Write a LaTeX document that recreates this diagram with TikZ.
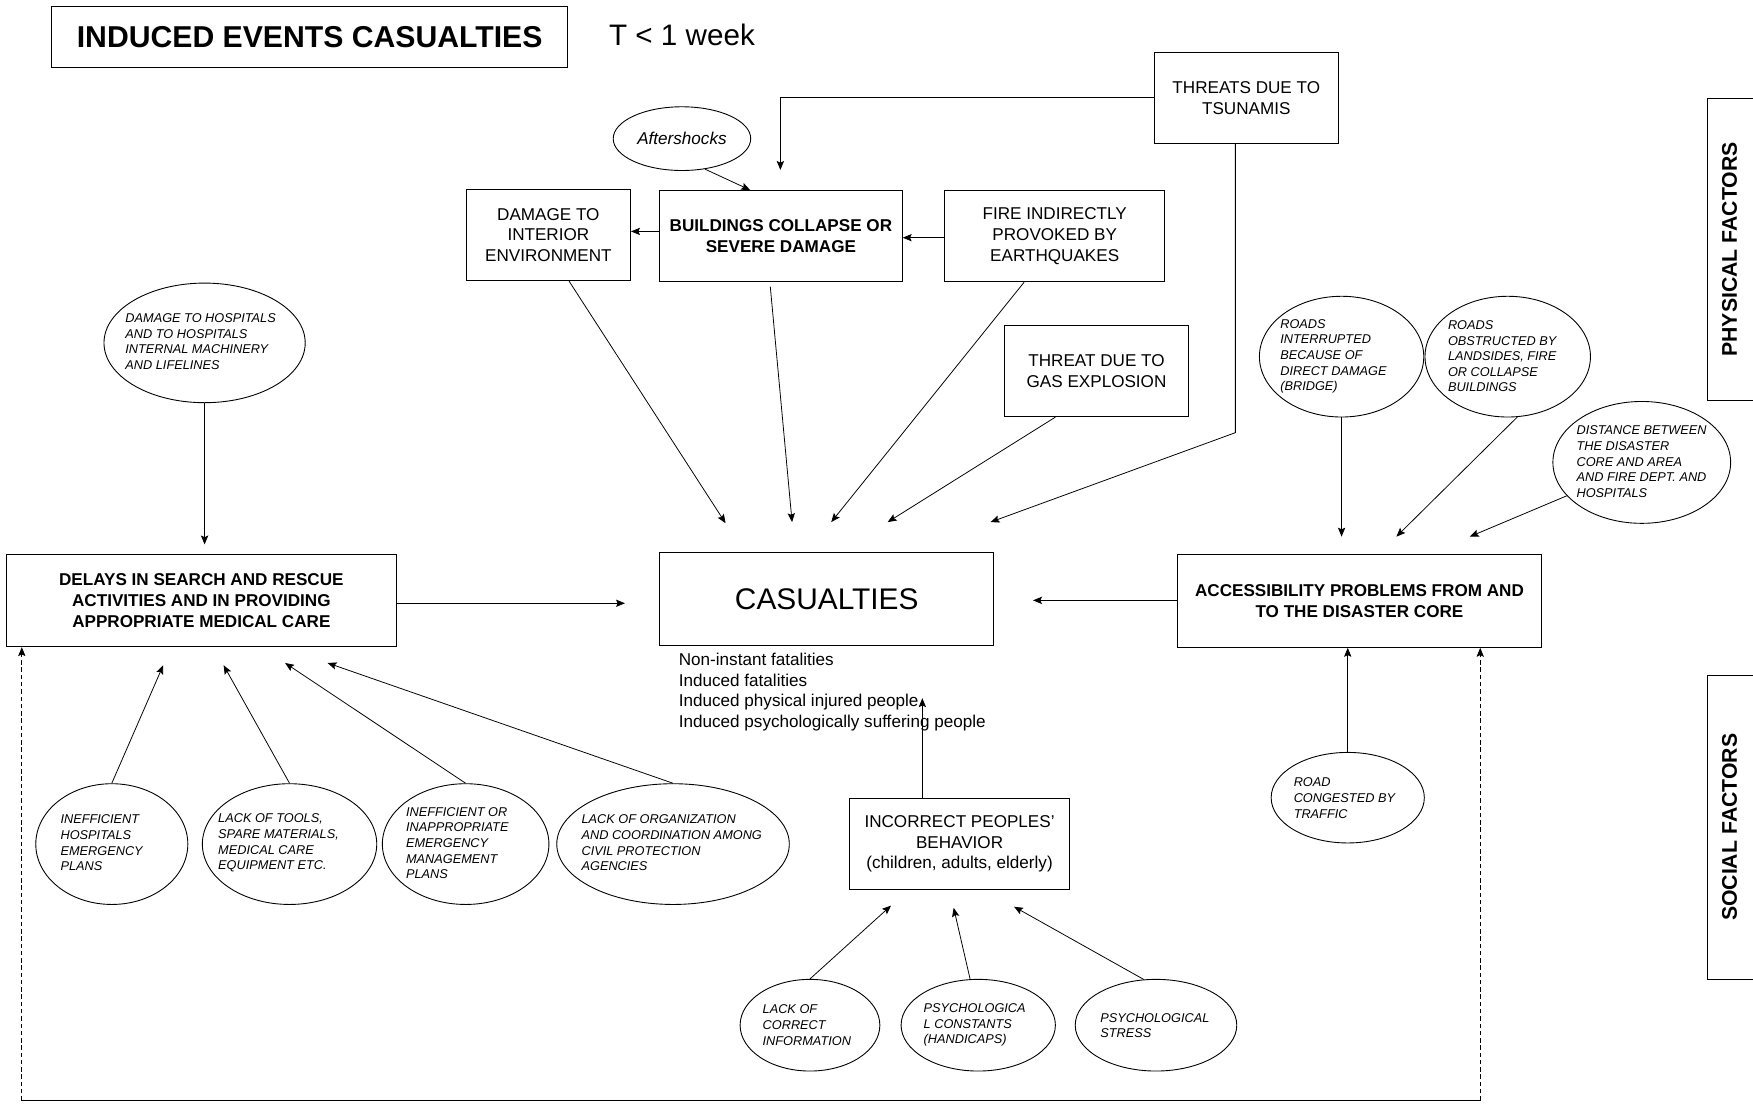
\documentclass[tikz,border=0pt]{standalone}
\usepackage{fontspec}
\setmainfont{Liberation Sans}
\usetikzlibrary{arrows.meta,shapes.geometric}

\begin{document}
\begin{tikzpicture}[x=1pt,y=-1pt,
  box/.style={draw, line width=0.9pt, inner sep=0pt, align=center, font=\fontsize{15.3}{18.6}\selectfont},
  boldbox/.style={box, font=\bfseries\fontsize{15.3}{18.6}\selectfont},
  oval/.style={ellipse, draw, line width=0.8pt, inner sep=0pt},
  ovtext/.style={anchor=west, align=left, inner sep=0pt, font=\itshape\fontsize{11.4}{14}\selectfont},
  arr/.style={line width=0.7pt, -{Stealth[length=8pt,width=6.5pt,inset=1.5pt]}},
  side/.style={rotate=90, inner sep=0pt, font=\bfseries\fontsize{19}{22}\selectfont},
  frame/.style={line width=0.9pt},
]
\useasboundingbox (0,0) rectangle (1568,988);

% ---------- heading ----------
\node[box, minimum width=462pt, minimum height=54pt, font=\bfseries\fontsize{27}{32}\selectfont] (title) at (277,33) {INDUCED EVENTS CASUALTIES};
\node[inner sep=0pt, font=\fontsize{26.5}{30}\selectfont] (period) at (610,31.5) {T < 1 week};

% ---------- physical causes ----------
\node[box, minimum width=164.5pt, minimum height=81pt] (tsu) at (1114.75,87.5) {THREATS DUE TO\\TSUNAMIS};
\node[oval, minimum width=123pt, minimum height=57pt, font=\itshape\fontsize{15.3}{18}\selectfont] (after) at (610,124) {Aftershocks};
\node[box, minimum width=147pt, minimum height=81.5pt] (dmg) at (490.5,210.25) {DAMAGE TO\\INTERIOR\\ENVIRONMENT};
\node[boldbox, minimum width=217pt, minimum height=82pt] (bld) at (698.5,211) {BUILDINGS COLLAPSE OR\\SEVERE DAMAGE};
\node[box, minimum width=196.8pt, minimum height=82pt] (fire) at (943.4,211) {FIRE INDIRECTLY\\PROVOKED BY\\EARTHQUAKES};
\node[box, minimum width=164.4pt, minimum height=81.7pt] (gas) at (980.8,331.8) {THREAT DUE TO\\GAS EXPLOSION};

% ---------- central outcome ----------
\node[box, minimum width=299pt, minimum height=82.5pt, font=\fontsize{26.7}{30}\selectfont] (cas) at (739.5,535.75) {CASUALTIES};
\node[anchor=west, align=left, inner sep=0pt, font=\fontsize{15.3}{18.3}\selectfont] (casList) at (607,619) {Non-instant fatalities\\Induced fatalities\\Induced physical injured people\\Induced psychologically suffering people};

% ---------- rescue delays ----------
\node[oval, minimum width=180pt, minimum height=107pt] (hosp) at (183,306.7) {};
\node[ovtext] (hospT) at (112,305.5) {DAMAGE TO HOSPITALS\\AND TO HOSPITALS\\INTERNAL MACHINERY\\AND LIFELINES};
\node[boldbox, minimum width=349pt, minimum height=82pt] (del) at (180.1,537.4) {DELAYS IN SEARCH AND RESCUE\\ACTIVITIES AND IN PROVIDING\\APPROPRIATE MEDICAL CARE};

\node[oval, minimum width=136pt, minimum height=108pt] (e1) at (100,755) {};
\node[ovtext] (e1T) at (54,754) {INEFFICIENT\\HOSPITALS\\EMERGENCY\\PLANS};
\node[oval, minimum width=156pt, minimum height=108pt] (e2) at (259,755) {};
\node[ovtext] (e2T) at (195,754) {LACK OF TOOLS,\\SPARE MATERIALS,\\MEDICAL CARE\\EQUIPMENT ETC.};
\node[oval, minimum width=149pt, minimum height=108pt] (e3) at (416.5,755) {};
\node[ovtext] (e3T) at (363,754) {INEFFICIENT OR\\INAPPROPRIATE\\EMERGENCY\\MANAGEMENT\\PLANS};
\node[oval, minimum width=208pt, minimum height=108pt] (e4) at (602,755) {};
\node[ovtext] (e4T) at (520,754) {LACK OF ORGANIZATION\\AND COORDINATION AMONG\\CIVIL PROTECTION\\AGENCIES};

% ---------- accessibility ----------
\node[boldbox, minimum width=326pt, minimum height=83pt] (acc) at (1216,537.5) {ACCESSIBILITY PROBLEMS FROM AND\\TO THE DISASTER CORE};
\node[oval, minimum width=147pt, minimum height=108pt] (ri) at (1200,319) {};
\node[ovtext] (riT) at (1145,318.7) {ROADS\\INTERRUPTED\\BECAUSE OF\\DIRECT DAMAGE\\(BRIDGE)};
\node[oval, minimum width=148pt, minimum height=108pt] (ro) at (1348.6,319) {};
\node[ovtext] (roT) at (1295,318.7) {ROADS\\OBSTRUCTED BY\\LANDSIDES, FIRE\\OR COLLAPSE\\BUILDINGS};
\node[oval, minimum width=159pt, minimum height=109pt] (di) at (1468.5,413.6) {};
\node[ovtext] (diT) at (1410,413) {DISTANCE BETWEEN\\THE DISASTER\\CORE AND AREA\\AND FIRE DEPT. AND\\HOSPITALS};
\node[oval, minimum width=137pt, minimum height=81pt] (rc) at (1205.5,713.5) {};
\node[ovtext] (rcT) at (1157,714) {ROAD\\CONGESTED BY\\TRAFFIC};

% ---------- people's behaviour ----------
\node[box, minimum width=197.4pt, minimum height=81.5pt] (inc) at (858.3,754.75) {INCORRECT PEOPLES'\\BEHAVIOR\\(children, adults, elderly)};
\node[oval, minimum width=125pt, minimum height=82pt] (li) at (724.5,917) {};
\node[ovtext] (liT) at (682,917) {LACK OF\\CORRECT\\INFORMATION};
\node[oval, minimum width=138pt, minimum height=82pt] (pc) at (875,917) {};
\node[ovtext] (pcT) at (826,917) {PSYCHOLOGICA\\L CONSTANTS\\(HANDICAPS)};
\node[oval, minimum width=144.5pt, minimum height=82pt] (ps) at (1034,917) {};
\node[ovtext] (psT) at (984,917.5) {PSYCHOLOGICAL\\STRESS};

% ---------- side labels ----------
\node[side] (phys) at (1547,223) {PHYSICAL FACTORS};
\draw[frame] (1568,88) -- (1527,88) -- (1527,358) -- (1568,358);
\node[side] (soc) at (1547,740) {SOCIAL FACTORS};
\draw[frame] (1568,604) -- (1527,604) -- (1527,876) -- (1568,876);

% ---------- arrow tips ----------
\coordinate (tAft) at (671,170);
\coordinate (tTsuB) at (698,152);
\coordinate (tsuKnee) at (1105,387);
\coordinate (tC1) at (649,468);
\coordinate (tC2) at (708.5,467);
\coordinate (tC3) at (743.5,467);
\coordinate (tC4) at (794,467);
\coordinate (tC5) at (886,467);
\coordinate (tCL) at (559,539.6);
\coordinate (tCR) at (924,537);
\coordinate (tDel) at (183,487);
\coordinate (tD1) at (146,595);
\coordinate (tD2) at (200,595);
\coordinate (tD3) at (255,593);
\coordinate (tD4) at (293,593);
\coordinate (tI1) at (797,810);
\coordinate (tI2) at (853,812);
\coordinate (tI3) at (907,811);
\coordinate (tCas) at (825,624.5);
\coordinate (tA1) at (1200,480);
\coordinate (tA2) at (1249,480);
\coordinate (tA3) at (1314.7,480);
\coordinate (loopL) at (19.5,984.5);
\coordinate (loopR) at (1324,984.5);

% ---------- connectors ----------
\draw[arr] (after.-53) -- (tAft);
\draw[arr] (tsu.west) -| (tTsuB);
\draw[arr] (tsu.south -| tsuKnee) -- (tsuKnee) -- (tC5);
\draw[arr] ([yshift=4pt]bld.west) -- ([yshift=4pt]bld.west -| dmg.east);
\draw[arr] ([yshift=-1.6pt]fire.west) -- ([yshift=-1.6pt]fire.west -| bld.east);
\draw[arr] ([xshift=18.5pt]dmg.south) -- (tC1);
\draw[arr] ([xshift=-9.5pt,yshift=-4pt]bld.south) -- (tC2);
\draw[arr] ([xshift=-27.4pt]fire.south) -- (tC3);
\draw[arr] ([xshift=-36.8pt]gas.south) -- (tC4);

\draw[arr] (hosp.south) -- (tDel);
\draw[arr] (del.east |- tCL) -- (tCL);
\draw[arr] (acc.west |- tCR) -- (tCR);
\draw[arr] (e1.north) -- (tD1);
\draw[arr] (e2.north) -- (tD2);
\draw[arr] (e3.north) -- (tD3);
\draw[arr] (e4.north) -- (tD4);

\draw[arr] (li.north) -- (tI1);
\draw[arr] (pc.100) -- (tI2);
\draw[arr] (ps.105) -- (tI3);
\draw[arr] ([xshift=-33.3pt]inc.north) -- (tCas);

\draw[arr] (ri.south) -- (tA1);
\draw[arr] (ro.-81) -- (tA2);
\draw[arr] (di.204) -- (tA3);
\draw[arr] (rc.north) -- (rc.north |- acc.south);

\draw[arr, dash pattern=on 4pt off 2.5pt] (loopL) -- (loopL |- del.south);
\draw[arr, dash pattern=on 4pt off 2.5pt] (loopR) -- (loopR |- acc.south);
\draw[line width=1.1pt] (loopL) -- (loopR);
\end{tikzpicture}
\end{document}
